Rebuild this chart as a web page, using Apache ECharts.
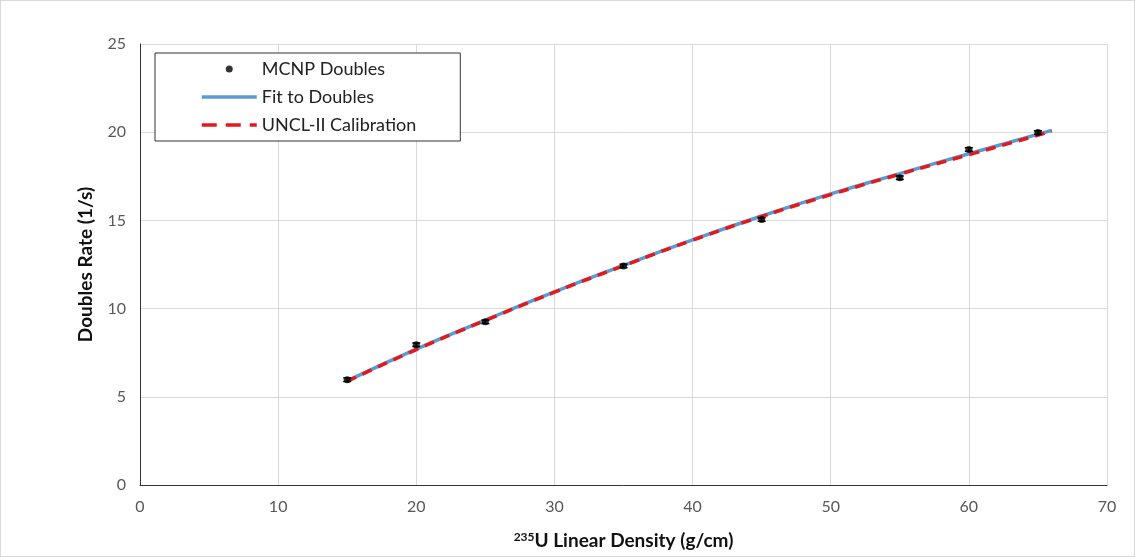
<!DOCTYPE html>
<html>
<head>
<meta charset="utf-8">
<script src="https://cdn.jsdelivr.net/npm/echarts@6/dist/echarts.min.js"></script>
<style>
  html, body { margin: 0; padding: 0; background: #fff; }
  #chart { width: 1133px; height: 555px; border: 1px solid #d9d9d9; }
</style>
</head>
<body>
<div id="chart"></div>
<script>
// MCNP simulated doubles (x = 235U linear density, y = doubles rate)
var mcnpX = [15, 20, 25, 35, 45, 55, 60, 65];
var mcnpY = [5.97, 7.95, 9.25, 12.42, 15.05, 17.42, 19.02, 19.98];
var mcnpErr = [0.1, 0.1, 0.1, 0.1, 0.1, 0.1, 0.1, 0.1];

// fit curve to the doubles
var fitX = [15, 20, 25, 30, 35, 40, 45, 50, 55, 60, 66];
var fitY = [5.9, 7.7, 9.35, 10.95, 12.45, 13.9, 15.25, 16.5, 17.65, 18.78, 20.1];

// UNCL-II calibration curve
var calX = [15, 20, 25, 30, 35, 40, 45, 50, 55, 60, 66];
var calY = [5.88, 7.68, 9.33, 10.93, 12.43, 13.88, 15.22, 16.46, 17.62, 18.72, 20.05];

var xTicks = [0, 10, 20, 30, 40, 50, 60, 70];
var yTicks = [0, 5, 10, 15, 20, 25];

var font = 'Lato, "Open Sans", sans-serif';

function pairs(xs, ys) {
    return xs.map(function (x, i) { return [x, ys[i]]; });
}

var chart = echarts.init(document.getElementById('chart'));

var option = {
    animation: false,
    backgroundColor: '#fff',
    grid: { left: 139, right: 27, top: 43, bottom: 71 },
    legend: {
        orient: 'vertical',
        left: 154,
        top: 52,
        padding: [7, 44, 7, 45],
        borderColor: '#333',
        borderWidth: 1,
        backgroundColor: '#fff',
        itemWidth: 55,
        itemHeight: 7,
        itemGap: 10,
        textStyle: { fontFamily: font, fontSize: 18, color: '#222' },
        data: [
            { name: 'MCNP Doubles', icon: 'circle' },
            { name: 'Fit to Doubles', itemStyle: { opacity: 0 }, lineStyle: { width: 3.5 } },
            { name: 'UNCL-II Calibration', itemStyle: { opacity: 0 }, lineStyle: { width: 3.5, type: [15, 9] } }
        ]
    },
    xAxis: {
        type: 'value',
        min: xTicks[0],
        max: xTicks[xTicks.length - 1],
        interval: 10,
        name: '{sup|235}U Linear Density (g/cm)',
        nameLocation: 'middle',
        nameGap: 46,
        nameTextStyle: {
            fontFamily: font, fontSize: 19, fontWeight: 'bold', color: '#111',
            rich: {
                sup: { fontFamily: font, fontSize: 12, fontWeight: 'bold', color: '#111', verticalAlign: 'top', padding: [0, 0, 7, 0] }
            }
        },
        axisLine: { show: true, lineStyle: { color: '#333', width: 1 } },
        axisTick: { show: false },
        axisLabel: { fontFamily: font, fontSize: 16, color: '#595959', margin: 14 },
        splitLine: { show: true, lineStyle: { color: '#d9d9d9', width: 1 } }
    },
    yAxis: {
        type: 'value',
        min: yTicks[0],
        max: yTicks[yTicks.length - 1],
        interval: 5,
        name: 'Doubles Rate (1/s)',
        nameLocation: 'middle',
        nameGap: 45,
        nameTextStyle: { fontFamily: font, fontSize: 19, fontWeight: 'bold', color: '#111' },
        axisLine: { show: true, lineStyle: { color: '#333', width: 1 } },
        axisTick: { show: false },
        axisLabel: { fontFamily: font, fontSize: 16, color: '#595959', margin: 14 },
        splitLine: { show: true, lineStyle: { color: '#d9d9d9', width: 1 } }
    },
    series: [
        {
            name: 'Fit to Doubles',
            type: 'line',
            smooth: true,
            symbol: 'none',
            data: pairs(fitX, fitY),
            lineStyle: { color: '#5B9BD5', width: 3.5 },
            itemStyle: { color: '#5B9BD5' },
            z: 2
        },
        {
            name: 'UNCL-II Calibration',
            type: 'line',
            smooth: true,
            symbol: 'none',
            data: pairs(calX, calY),
            lineStyle: { color: '#E3191C', width: 3.5, type: [10, 7], cap: 'butt' },
            itemStyle: { color: '#E3191C' },
            z: 3
        },
        {
            name: 'MCNP Doubles',
            type: 'scatter',
            symbol: 'circle',
            symbolSize: 7,
            data: pairs(mcnpX, mcnpY),
            itemStyle: { color: '#000' },
            z: 4
        },
        {
            name: 'MCNP Doubles',
            type: 'custom',
            data: mcnpX.map(function (x, i) { return [x, mcnpY[i] - mcnpErr[i], mcnpY[i] + mcnpErr[i]]; }),
            renderItem: function (params, api) {
                var lo = api.coord([api.value(0), api.value(1)]);
                var hi = api.coord([api.value(0), api.value(2)]);
                var half = 4;
                var st = { stroke: '#000', lineWidth: 1.5 };
                return {
                    type: 'group',
                    children: [
                        { type: 'line', shape: { x1: lo[0], y1: lo[1], x2: hi[0], y2: hi[1] }, style: st },
                        { type: 'line', shape: { x1: lo[0] - half, y1: lo[1], x2: lo[0] + half, y2: lo[1] }, style: st },
                        { type: 'line', shape: { x1: hi[0] - half, y1: hi[1], x2: hi[0] + half, y2: hi[1] }, style: st }
                    ]
                };
            },
            z: 5
        }
    ]
};

chart.setOption(option);
</script>
</body>
</html>
